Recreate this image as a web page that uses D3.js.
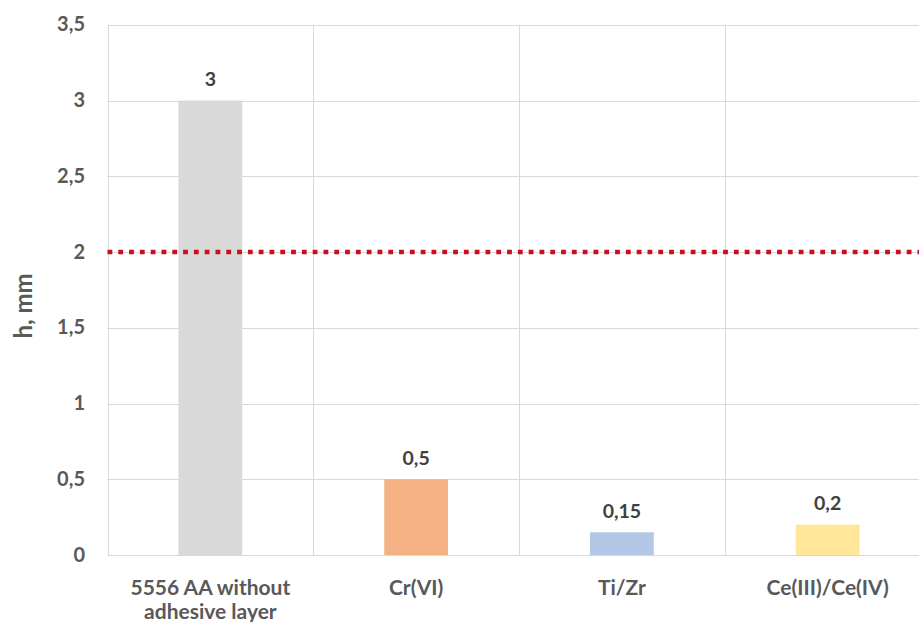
<!DOCTYPE html>
<html><head><meta charset="utf-8">
<script src="https://cdn.jsdelivr.net/npm/d3@7"></script>
<style>
html,body{margin:0;padding:0;background:#fff;overflow:hidden}
text{font-family:Lato,"Open Sans",sans-serif;font-weight:bold}
</style></head>
<body>
<script>
const categories = [["5556 AA without","adhesive layer"],["Cr(VI)"],["Ti/Zr"],["Ce(III)/Ce(IV)"]];
const values = [3, 0.5, 0.15, 0.2];
const valueLabels = ["3","0,5","0,15","0,2"];
const colors = ["#d9d9d9","#f4b183","#b4c7e7","#ffe699"];
const yTicks = [0,0.5,1,1.5,2,2.5,3,3.5];
const yTickLabels = ["0","0,5","1","1,5","2","2,5","3","3,5"];
const thresholdValue = 2;
const yTitle = "h, mm";

const W = 919, H = 622;
const mLeft = 107.5, mTop = 24.75, mBottom = 555, plotW = 823;
const svg = d3.select("body").append("svg").attr("width",W).attr("height",H);

const x = d3.scaleBand().domain(d3.range(categories.length)).range([mLeft,mLeft+plotW]).paddingInner(0.69).paddingOuter(0.345);
const xCat = d3.scaleBand().domain(d3.range(categories.length)).range([mLeft,mLeft+plotW]);
const y = d3.scaleLinear().domain([0,3.5]).range([mBottom,mTop]);

const grid = svg.append("g");
grid.selectAll("line.h").data(yTicks).join("line")
  .attr("x1",mLeft).attr("x2",mLeft+plotW)
  .attr("y1",d=>Math.round(y(d))+0.5).attr("y2",d=>Math.round(y(d))+0.5)
  .attr("stroke","#d9d9d9").attr("stroke-width",1);
grid.selectAll("line.v").data(d3.range(categories.length+1)).join("line")
  .attr("x1",d=>Math.round(mLeft+d*xCat.bandwidth())+0.5).attr("x2",d=>Math.round(mLeft+d*xCat.bandwidth())+0.5)
  .attr("y1",mTop).attr("y2",mBottom)
  .attr("stroke","#d9d9d9").attr("stroke-width",1);

svg.append("g").selectAll("rect").data(values).join("rect")
  .attr("x",(d,i)=>x(i)).attr("width",x.bandwidth())
  .attr("y",d=>y(d)).attr("height",d=>mBottom-y(d))
  .attr("fill",(d,i)=>colors[i]);

svg.append("line")
  .attr("x1",mLeft).attr("x2",mLeft+plotW)
  .attr("y1",y(thresholdValue)).attr("y2",y(thresholdValue))
  .attr("stroke","#c8101c").attr("stroke-width",4.5)
  .attr("stroke-dasharray","4.8,6");

svg.append("g").selectAll("text").data(values).join("text")
  .attr("x",(d,i)=>x(i)+x.bandwidth()/2).attr("y",d=>y(d)-14.5)
  .attr("text-anchor","middle").attr("font-size",19.5).attr("fill","#404040")
  .text((d,i)=>valueLabels[i]);

svg.append("g").selectAll("text").data(yTicks).join("text")
  .attr("x",85).attr("y",d=>y(d)+6.5)
  .attr("text-anchor","end").attr("font-size",20).attr("fill","#595959")
  .text((d,i)=>yTickLabels[i]);

const xl = svg.append("g").selectAll("text").data(categories).join("text")
  .attr("x",(d,i)=>xCat(i)+xCat.bandwidth()/2).attr("y",595)
  .attr("text-anchor","middle").attr("font-size",21).attr("fill","#595959");
xl.each(function(d){
  const t = d3.select(this);
  d.forEach((s,k)=>t.append("tspan").attr("x",t.attr("x")).attr("dy",k?24:0).text(s));
});

svg.append("text").attr("transform","translate(32,306) rotate(-90)")
  .attr("text-anchor","middle").attr("font-size",24).attr("fill","#595959").text(yTitle);
</script>
</body></html>
